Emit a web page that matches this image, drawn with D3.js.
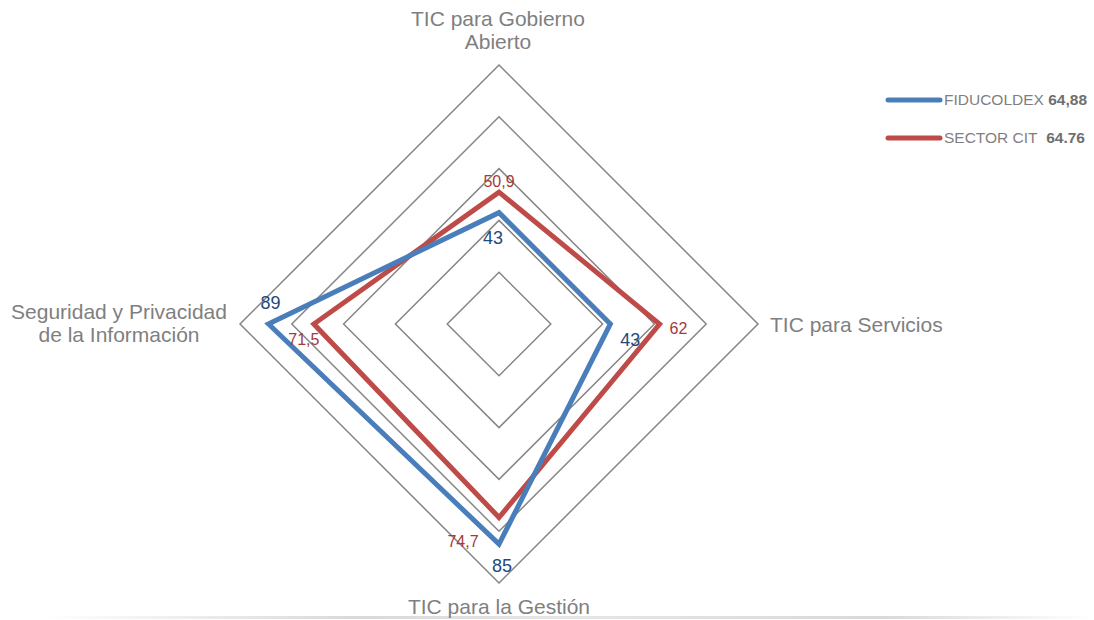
<!DOCTYPE html>
<html>
<head>
<meta charset="utf-8">
<script src="https://cdn.jsdelivr.net/npm/d3@7"></script>
<style>
  body { margin: 0; background: #fff; }
  svg { display: block; font-family: "Liberation Sans", Arial, sans-serif; }
</style>
</head>
<body>
<svg id="chart" width="1094" height="620"></svg>
<script>
const axes = ["TIC para Gobierno Abierto", "TIC para Servicios", "TIC para la Gestión", "Seguridad y Privacidad de la Información"];
const fiducoldex = [43, 43, 85, 89];
const sectorCit = [50.9, 62, 74.7, 71.5];
const fiducoldexLabels = ["43", "43", "85", "89"];
const sectorCitLabels = ["50,9", "62", "74,7", "71,5"];
const ringTicks = [20, 40, 60, 80, 100];
const legendNames = ["FIDUCOLDEX", "SECTOR CIT"];
const legendTotals = ["64,88", "64.76"];

const svg = d3.select("#chart");
const cx = 499, cy = 324, R = 259;
const r = d3.scaleLinear().domain([0, 100]).range([0, R]);
const angle = i => i * Math.PI / 2;
const pt = (v, i) => [cx + r(v) * Math.sin(angle(i)), cy - r(v) * Math.cos(angle(i))];

// bottom shadow
const defs = svg.append("defs");
const grad = defs.append("linearGradient").attr("id", "shadow").attr("x1", 0).attr("x2", 1);
grad.append("stop").attr("offset", "0").attr("stop-color", "#fff");
grad.append("stop").attr("offset", "0.3").attr("stop-color", "#d9d9d9");
grad.append("stop").attr("offset", "0.5").attr("stop-color", "#e6e6e6");
grad.append("stop").attr("offset", "0.8").attr("stop-color", "#d9d9d9");
grad.append("stop").attr("offset", "1").attr("stop-color", "#fff");
svg.append("rect").attr("x", 40).attr("y", 616).attr("width", 1054).attr("height", 3).attr("fill", "url(#shadow)");

// grid rings
svg.append("g").selectAll("path").data(ringTicks).join("path")
  .attr("d", t => d3.line()(axes.map((a, i) => pt(t, i))) + "Z")
  .attr("fill", "none")
  .attr("stroke", "#868686")
  .attr("stroke-width", 1.5);

// series
const series = [
  { values: sectorCit, labels: sectorCitLabels, color: "#BE4B48", text: "#A33B38", size: 16,
    offsets: [[0, -5, "middle"], [10, 10, "start"], [-36, 30, "middle"], [-10, 21, "middle"]] },
  { values: fiducoldex, labels: fiducoldexLabels, color: "#4A7EBB", text: "#1F497D", size: 18,
    offsets: [[-6, 31, "middle"], [20, 22, "middle"], [3, 28, "middle"], [2, -15, "middle"]] }
];

series.forEach(s => {
  svg.append("path")
    .attr("d", d3.line()(s.values.map((v, i) => pt(v, i))) + "Z")
    .attr("fill", "none")
    .attr("stroke", s.color)
    .attr("stroke-width", 5)
    .attr("stroke-linejoin", "miter");
});

series.forEach(s => {
  svg.append("g").selectAll("text").data(s.values).join("text")
    .attr("x", (v, i) => pt(v, i)[0] + s.offsets[i][0])
    .attr("y", (v, i) => pt(v, i)[1] + s.offsets[i][1])
    .attr("text-anchor", (v, i) => s.offsets[i][2])
    .attr("fill", s.text)
    .attr("font-size", s.size)
    .text((v, i) => s.labels[i]);
});

// axis labels
const axisLabel = (lines, x, y, anchor) => {
  const t = svg.append("text").attr("x", x).attr("y", y).attr("text-anchor", anchor)
    .attr("fill", "#7F7F7F").attr("font-size", 21);
  lines.forEach((l, k) => t.append("tspan").attr("x", x).attr("dy", k ? 23 : 0).text(l));
};
axisLabel(["TIC para Gobierno", "Abierto"], 498, 26, "middle");
axisLabel([axes[1]], 770, 332, "start");
axisLabel([axes[2]], 499, 614, "middle");
axisLabel(["Seguridad y Privacidad", "de la Información"], 119, 319, "middle");

// legend
const legend = svg.append("g");
legendNames.forEach((name, k) => {
  const y = 100 + k * 38;
  legend.append("line").attr("x1", 888).attr("x2", 940).attr("y1", y).attr("y2", y)
    .attr("stroke", series[1 - k].color).attr("stroke-width", 5).attr("stroke-linecap", "round");
  const t = legend.append("text").attr("x", 944).attr("y", y + 5).attr("font-size", 15.5).attr("fill", "#7F7F7F");
  t.append("tspan").text(name + (k ? "\u00a0\u00a0" : "\u00a0"));
  t.append("tspan").attr("font-weight", "bold").attr("fill", "#6F6F6F").text(legendTotals[k]);
});
</script>
</body>
</html>
